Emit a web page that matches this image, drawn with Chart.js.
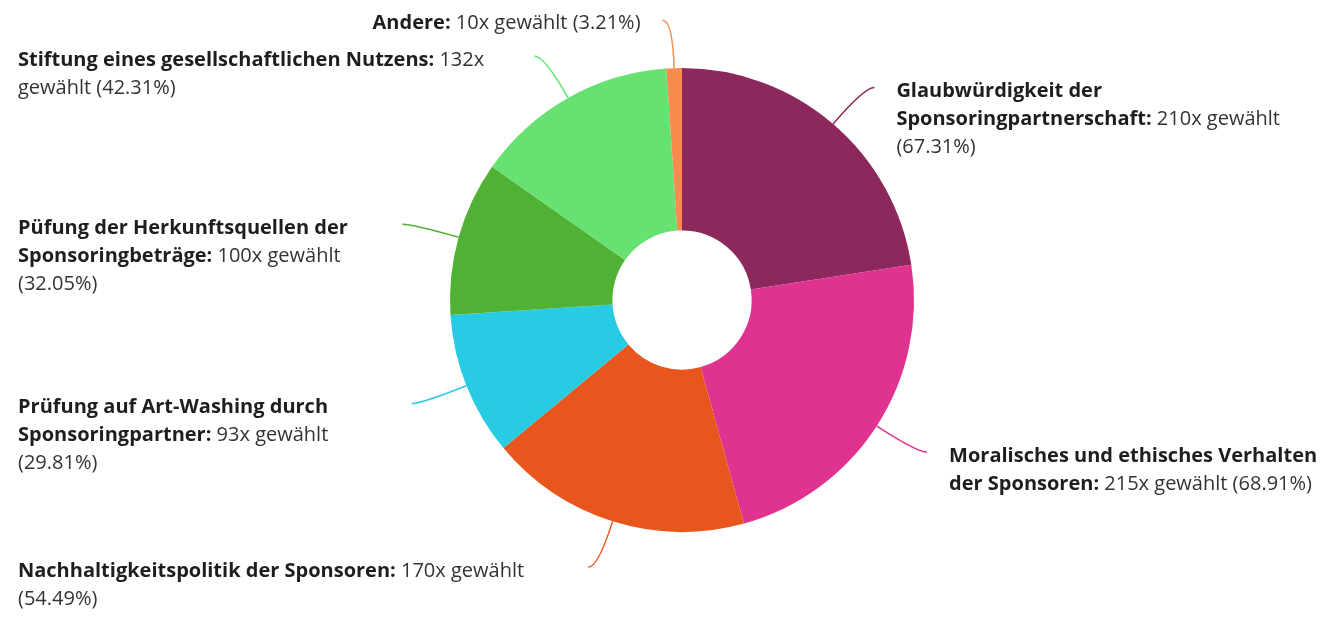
<!DOCTYPE html>
<html>
<head>
<meta charset="utf-8">
<script src="https://cdn.jsdelivr.net/npm/chart.js@4.4.1/dist/chart.umd.min.js"></script>
<style>
  html, body { margin: 0; padding: 0; background: #fff; }
  #wrap { width: 1324px; height: 619px; }
</style>
</head>
<body>
<div id="wrap"><canvas id="donut"></canvas></div>
<script>
const labels = [
  'Glaubwürdigkeit der Sponsoringpartnerschaft',
  'Moralisches und ethisches Verhalten der Sponsoren',
  'Nachhaltigkeitspolitik der Sponsoren',
  'Prüfung auf Art-Washing durch Sponsoringpartner',
  'Püfung der Herkunftsquellen der Sponsoringbeträge',
  'Stiftung eines gesellschaftlichen Nutzens',
  'Andere'
];
const counts = [210, 215, 170, 93, 100, 132, 10];
const percents = ['67.31%', '68.91%', '54.49%', '29.81%', '32.05%', '42.31%', '3.21%'];
const colors = ['#8c285c', '#e0338f', '#e8561d', '#27cbe4', '#4fb234', '#67e272', '#f88b4e'];

const FONT = '"Open Sans", "Noto Sans", sans-serif';
const SIZE = 20;
const LINE_H = 28;

// split label + value into words, each word remembers its weight
function tokens(i) {
  const out = [];
  const words = labels[i].split(' ');
  words.forEach((w, k) => out.push({ text: k === words.length - 1 ? w + ':' : w, bold: true }));
  (counts[i] + 'x gewählt (' + percents[i] + ')').split(' ').forEach(w => out.push({ text: w, bold: false }));
  return out;
}

function setFont(ctx, bold) {
  ctx.font = (bold ? '700 ' : '400 ') + SIZE + 'px ' + FONT;
  ctx.fillStyle = bold ? '#1e1e1e' : '#333';
}

function wrap(ctx, toks, maxW) {
  const lines = [[]];
  let w = 0;
  toks.forEach(t => {
    setFont(ctx, t.bold);
    const tw = ctx.measureText(t.text).width;
    const sw = ctx.measureText(' ').width;
    const cur = lines[lines.length - 1];
    if (cur.length && w + sw + tw > maxW) {
      lines.push([t]);
      w = tw;
    } else {
      w += (cur.length ? sw : 0) + tw;
      cur.push(t);
    }
  });
  return lines;
}

function lineWidth(ctx, line) {
  let w = 0;
  line.forEach((t, k) => {
    setFont(ctx, t.bold);
    w += ctx.measureText(t.text).width + (k ? ctx.measureText(' ').width : 0);
  });
  return w;
}

function drawLine(ctx, line, x, y) {
  line.forEach((t, k) => {
    setFont(ctx, t.bold);
    if (k) x += ctx.measureText(' ').width;
    ctx.fillText(t.text, x, y);
    x += ctx.measureText(t.text).width;
  });
}

const calloutPlugin = {
  id: 'callouts',
  afterDatasetsDraw(chart) {
    const ctx = chart.ctx;
    const meta = chart.getDatasetMeta(0);
    ctx.save();
    ctx.textBaseline = 'middle';
    ctx.textAlign = 'left';
    meta.data.forEach((arc, i) => {
      const p = arc.getProps(['x', 'y', 'startAngle', 'endAngle', 'outerRadius'], true);
      const mid = (p.startAngle + p.endAngle) / 2;
      const cos = Math.cos(mid), sin = Math.sin(mid);
      const side = cos >= 0 ? 1 : -1;
      const x0 = p.x + cos * p.outerRadius, y0 = p.y + sin * p.outerRadius;
      const cx = p.x + cos * (p.outerRadius + 48), cy = p.y + sin * (p.outerRadius + 48);
      const x2 = cx + side * 10, y2 = cy;

      ctx.beginPath();
      ctx.moveTo(x0, y0);
      ctx.quadraticCurveTo(cx, cy, x2, y2);
      ctx.strokeStyle = colors[i];
      ctx.lineWidth = 1.5;
      ctx.stroke();

      const toks = tokens(i);
      if (-sin > 0.97) {
        // label sitting above the ring, right aligned next to the line end
        const lines = wrap(ctx, toks, 600);
        const right = x2 - 22;
        lines.forEach((ln, k) => drawLine(ctx, ln, right - lineWidth(ctx, ln), y2 + 3 + k * LINE_H));
      } else if (side > 0) {
        const x = x2 + 22;
        const lines = wrap(ctx, toks, chart.width - 6 - x);
        lines.forEach((ln, k) => drawLine(ctx, ln, x, y2 + 4 + k * LINE_H));
      } else {
        const x = 18;
        const lines = wrap(ctx, toks, x2 - 20 - x);
        lines.forEach((ln, k) => drawLine(ctx, ln, x, y2 + 4 + k * LINE_H));
      }
    });
    ctx.restore();
  }
};

const donutConfig = {
  type: 'doughnut',
  data: {
    labels: labels,
    datasets: [{
      data: counts,
      backgroundColor: colors,
      borderWidth: 0,
    }],
  },
  options: {
    responsive: true,
    maintainAspectRatio: false,
    animation: false,
    cutout: '30%',
    layout: { padding: { top: 68, bottom: 87, left: 450, right: 410 } },
    plugins: {
      legend: { display: false },
      tooltip: { enabled: false },
    },
  },
  plugins: [calloutPlugin],
};

const donutCtx = document.getElementById('donut');
window.myDonut = new Chart(donutCtx, donutConfig);
</script>
</body>
</html>
